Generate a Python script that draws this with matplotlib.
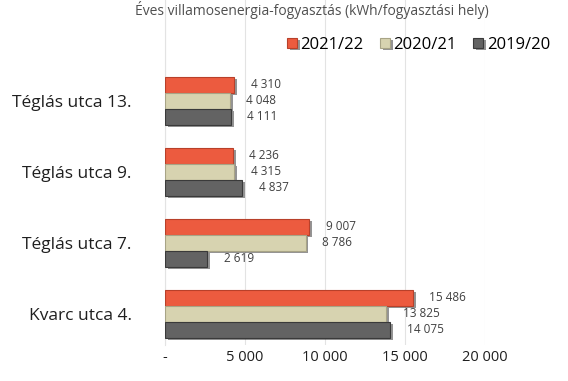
import numpy as np
import matplotlib.pyplot as plt
import matplotlib.patheffects as pe
from matplotlib.transforms import ScaledTranslation

plt.rcParams['font.family'] = ['Open Sans', 'DejaVu Sans']

# --- data ---
sites = ["Téglás utca 13.", "Téglás utca 9.", "Téglás utca 7.", "Kvarc utca 4."]
seasons = ["2021/22", "2020/21", "2019/20"]
v_2122 = [4310, 4236, 9007, 15486]
v_2021 = [4048, 4315, 8786, 13825]
v_1920 = [4111, 4837, 2619, 14075]
x_ticks = [0, 5000, 10000, 15000, 20000]
x_labels = ["-", "5 000", "10 000", "15 000", "20 000"]

colors = ["#EC5B3F", "#D7D3B0", "#636363"]
edges = ["#B8402A", "#A8A486", "#3A3A3A"]

fig = plt.figure(figsize=(5.68, 3.81), dpi=100)
W, H = 568, 381
ax = fig.add_axes([165 / W, 1 - 345 / H, 320 / W, 345 / H])

y = np.arange(len(sites))
h = 0.225
series = [v_2122, v_2021, v_1920]
for k, vals in enumerate(series):
    pos = y + (k - 1) * h
    bars = ax.barh(pos, vals, height=h, color=colors[k], edgecolor=edges[k],
                   linewidth=0.8, label=seasons[k], zorder=3)
    for b in bars:
        b.set_path_effects([pe.SimplePatchShadow(offset=(2, -1.5), shadow_rgbFace="#2b2b2b", alpha=0.5),
                            pe.Normal()])
    for p, v in zip(pos, vals):
        ax.annotate(f"{v:,}".replace(",", " "), (v, p), xytext=(12, 0),
                    textcoords="offset points", ha="left", va="center",
                    fontsize=8.5, color="#404040")

ax.set_xlim(0, 20000)
ax.set_ylim(3.44, -1.42)
ax.set_yticks(y)
ax.set_yticklabels(sites, fontsize=12.5, color="#1f1f1f")
ax.set_xticks(x_ticks)
ax.set_xticklabels(x_labels, fontsize=10.5, color="#1f1f1f")
for lbl in ax.get_xticklabels():
    lbl.set_transform(lbl.get_transform() + ScaledTranslation(-16 / 100, -20 / 100, fig.dpi_scale_trans))
ax.tick_params(axis="both", length=0)
ax.tick_params(axis="y", pad=24)
ax.grid(axis="x", color="#e3e3e3", linewidth=0.8, zorder=0)
for s in ["top", "right", "bottom"]:
    ax.spines[s].set_visible(False)
ax.spines["left"].set_color("#e3e3e3")

ax.legend(loc="upper left", bbox_to_anchor=(272 / W, 1 - 22 / H), bbox_transform=fig.transFigure,
          ncol=3, frameon=False, fontsize=12, handlelength=0.6, handleheight=0.6,
          handletextpad=0.2, columnspacing=1.0)

# title at top edge
fig.text(135 / W, 1 - 1 / H, "Éves villamosenergia-fogyasztás (kWh/fogyasztási hely)",
         fontsize=10, color="#505050", va="top", ha="left")

fig.savefig("out.png", dpi=100)
